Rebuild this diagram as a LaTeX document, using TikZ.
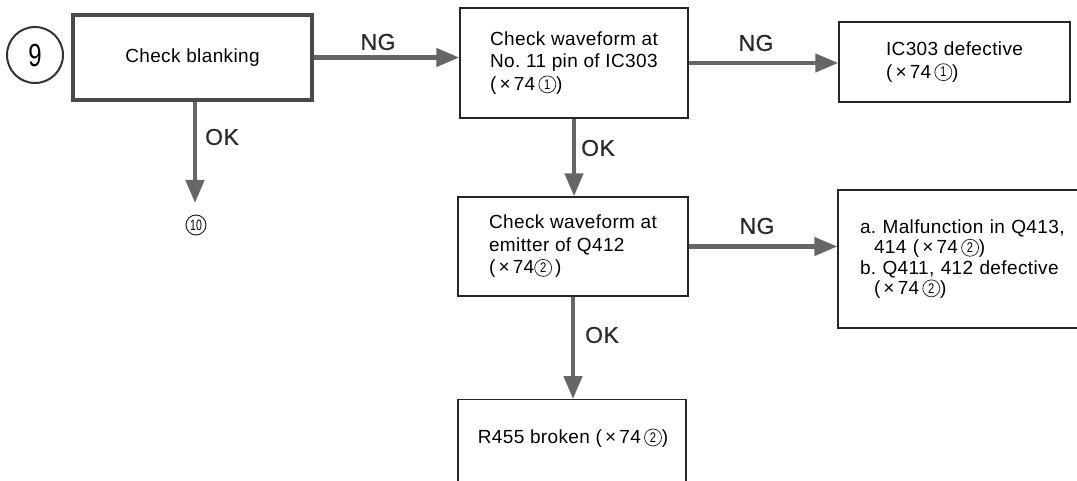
\documentclass[tikz,border=0pt]{standalone}
\usepackage{graphicx}
\usepackage{fontspec}
\setmainfont[LetterSpace=2]{Liberation Sans}
\newfontfamily\lblfont[FakeBold=0.6,LetterSpace=2]{Liberation Sans}
\newfontfamily\digfont{Liberation Sans}
\usetikzlibrary{arrows.meta}
\newcommand{\cnum}[1]{\tikz[x=1cm, y=1cm, scale=1, baseline=-6pt]
  \node[draw=black!85, fill=none, line width=0.75pt, circle, inner sep=0pt,
    minimum size=17pt, text width=, align=center, anchor=center,
    font=\digfont\fontsize{14}{14}\selectfont] (cc) at (0,0) {\scalebox{0.8}[1]{#1}};}
\newcommand{\circone}{\cnum{1}}
\newcommand{\circtwo}{\cnum{2}}
\definecolor{arrowgray}{HTML}{666666}
\definecolor{boxline}{HTML}{262626}
\definecolor{thickline}{HTML}{4A4A4A}
\definecolor{labeltext}{HTML}{2A2A2A}
\tikzset{
  box/.style={draw=boxline, line width=1.4pt, fill=white, inner sep=0pt,
    font=\fontsize{19}{22.5}\selectfont, align=left},
  flow/.style={draw=arrowgray, line width=4.5pt,
    -{Triangle[length=23pt,width=18pt]}},
  lbl/.style={font=\lblfont\fontsize{23}{26}\selectfont, text=labeltext, inner sep=0pt},
  plain/.style={font=\fontsize{19}{22.5}\selectfont, inner sep=0pt},
}
\begin{document}
\begin{tikzpicture}[x=1pt,y=-1pt]
\useasboundingbox (0,0) rectangle (1077,481);
\clip (0,0) rectangle (1077,481);

% start marker
\node[draw=black!80, line width=2pt, circle, minimum size=56pt, inner sep=0pt,
  font=\fontsize{32}{32}\selectfont] (c9) at (35,55) {\scalebox{0.75}[1]{9}};

% boxes
\node[box, draw=thickline, line width=4pt, minimum width=239pt, minimum height=85pt,
  align=center] (b1) at (192.5,57.5) {Check blanking};
\node[box, minimum width=228pt, minimum height=110pt] (b2) at (574,63)
  {Check waveform at\\No.\ 11 pin of IC303\\(\,×\,74\,\circone)};
\node[box, minimum width=231pt, minimum height=80pt] (b3) at (954.5,62)
  {IC303 defective\\(\,×\,74\,\circone)};
\node[box, minimum width=230pt, minimum height=99pt] (b4) at (573,246.5)
  {Check waveform at\\emitter of Q412\\(\,×\,74\circtwo\,)};
\node[box, text width=218pt, inner xsep=22pt, minimum height=138pt,
  font=\fontsize{19}{20.3}\selectfont] (b5) at (969,259)
  {a.\ Malfunction in Q413,\\\hspace*{14pt}414 (\,×\,74\,\circtwo)\\b.\ Q411, 412 defective\\\hspace*{14pt}(\,×\,74\,\circtwo)};
\node[box, minimum width=228pt, minimum height=120pt, anchor=north] (b6) at (572,399) {};
\node[plain] (b6t) at (573,438) {R455 broken (\,×\,74\,\circtwo)};

% end marker
\node[draw=black!85, line width=1pt, circle, minimum size=20pt, inner sep=0pt,
  font=\fontsize{15}{15}\selectfont] (c10) at (196,225) {\scalebox{0.7}[1]{10}};
\coordinate (t10) at (195,203);

% connectors
\draw[flow] (b1.east) -- (b1.east -| b2.west);
\draw[flow] (b2.east) -- (b2.east -| b3.west);
\draw[flow] (b1.south -| t10) -- (t10);
\draw[flow] (b2.south) -- (b2.south |- b4.north);
\draw[flow] (b4.east) -- (b4.east -| b5.west);
\draw[flow] (b4.south) -- (b4.south |- b6.north);

% labels
\node[lbl] (ng1) at (378,42) {NG};
\node[lbl] (ng2) at (756,43) {NG};
\node[lbl] (ng3) at (757,226) {NG};
\node[lbl] (ok1) at (222,137) {OK};
\node[lbl] (ok2) at (598,148) {OK};
\node[lbl] (ok3) at (602,335) {OK};
\end{tikzpicture}
\end{document}
